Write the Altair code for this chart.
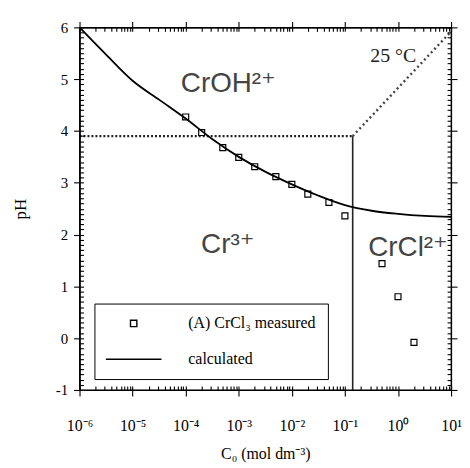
import altair as alt
import pandas as pd

# ---------------- data ----------------
curve_c = [1e-6, 3.2e-6, 1e-5, 3.2e-5, 1e-4, 3.2e-4, 1e-3, 3.2e-3, 1e-2, 3.2e-2, 0.1, 0.32, 1.0, 3.2, 10.0]
curve_ph = [6.0, 5.47, 4.97, 4.6, 4.24, 3.84, 3.5, 3.21, 2.97, 2.75, 2.57, 2.46, 2.4, 2.36, 2.34]

meas_c = [1e-4, 2e-4, 5e-4, 1e-3, 2e-3, 5e-3, 1e-2, 2e-2, 5e-2, 0.1, 0.5, 1.0, 2.0]
meas_ph = [4.27, 3.97, 3.68, 3.49, 3.31, 3.12, 2.97, 2.78, 2.62, 2.36, 1.44, 0.80, -0.08]

# predominance-area boundaries (segments)
bound_c1 = [1e-6, 0.14, 0.14]
bound_ph1 = [3.9, 3.9, 3.9]
bound_c2 = [0.14, 0.14, 10.0]
bound_ph2 = [3.9, -1.0, 5.92]

region_text = ["CrOH²⁺", "Cr³⁺", "CrCl²⁺"]
region_c = [8.1e-5, 1.95e-4, 0.275]
region_ph = [4.75, 1.64, 1.58]

temp_text = ["25 °C"]
temp_c = [0.3]
temp_ph = [5.34]

legend_names = ["(A) CrCl₃ measured", "calculated"]

x_exps = [-6, -5, -4, -3, -2, -1, 0, 1]
x_tick_labels = ["10⁻⁶", "10⁻⁵", "10⁻⁴", "10⁻³", "10⁻²", "10⁻¹", "10⁰", "10¹"]
y_major_ticks = [-1, 0, 1, 2, 3, 4, 5, 6]
y_domain = [-1, 6]
x_domain = [1e-6, 10.0]

# ---------------- tables ----------------
curve_df = pd.DataFrame({"c": curve_c, "ph": curve_ph})
meas_df = pd.DataFrame({"c": meas_c, "ph": meas_ph})
bound_df = pd.DataFrame({"c": bound_c1, "ph": bound_ph1, "c2": bound_c2, "ph2": bound_ph2})
region_df = pd.DataFrame({"c": region_c, "ph": region_ph, "t": region_text})
temp_df = pd.DataFrame({"c": temp_c, "ph": temp_ph, "t": temp_text})
legend_df = pd.DataFrame({"series": legend_names})

# ---------------- axes ----------------
x_major_ticks = [10.0 ** e for e in x_exps]
x_all_ticks = [m * 10.0 ** e for e in range(-6, 1) for m in range(1, 10)] + [10.0]
y_all_ticks = [round(-1 + i * 0.1, 1) for i in range(71)]

lx = "log(datum.value)/LN10"
chain = "''"
for ex, lab in reversed(list(zip(x_exps, x_tick_labels))):
    chain = f"(round({lx}) == {ex} ? '{lab}' : {chain})"
x_label_expr = chain
y_label_expr = "'' + round(datum.value)"

SERIF = "Liberation Serif"
SANS = "Liberation Sans, DejaVu Sans"

xscale = alt.Scale(type="log", domain=x_domain, nice=False)
yscale = alt.Scale(domain=y_domain, nice=False, zero=False)

common = dict(grid=False, domainColor="black", tickColor="black", tickWidth=1.1,
              ticks=True, tickOpacity=1, zindex=1)

xaxis = alt.Axis(
    orient="bottom", values=x_major_ticks, labelExpr=x_label_expr, tickSize=6,
    labelFont=SERIF, labelFontSize=16, labelColor="black", labelPadding=22, labelFlush=False,
    title="C₀ (mol dm⁻³)", titleFont=SERIF, titleFontSize=16, titleFontWeight="normal",
    titleColor="black", titlePadding=12, **common,
)
yaxis = alt.Axis(
    orient="left", values=y_major_ticks, labelExpr=y_label_expr, tickSize=6,
    labelFont=SERIF, labelFontSize=15, labelColor="black", labelPadding=6,
    title="pH", titleFont=SERIF, titleFontSize=17, titleFontWeight="normal",
    titleColor="black", titlePadding=26, **common,
)


def plain_axis(orient, values, size):
    return alt.Axis(orient=orient, values=values, labels=False, title=None, tickSize=size, **common)


def X(axis=None, f="c"):
    return alt.X(f, type="quantitative", scale=xscale, axis=axis)


def Y(axis=None, f="ph"):
    return alt.Y(f, type="quantitative", scale=yscale, axis=axis)


# ---------------- layers (flat, each with identical scales) ----------------
b_h = alt.Chart(bound_df.iloc[[0]]).mark_rule(color="#222", strokeWidth=2.2, strokeDash=[2, 2]).encode(
    x=X(), y=Y(), x2="c2", y2="ph2")
b_v = alt.Chart(bound_df.iloc[[1]]).mark_rule(color="#222", strokeWidth=1.6).encode(
    x=X(), y=Y(), x2="c2", y2="ph2")
b_d = alt.Chart(bound_df.iloc[[2]]).mark_rule(color="#444", strokeWidth=2.4, strokeDash=[2, 3]).encode(
    x=X(), y=Y(), x2="c2", y2="ph2")

curve = alt.Chart(curve_df).mark_line(color="black", strokeWidth=1.8, interpolate="monotone").encode(
    x=X(xaxis), y=Y(yaxis))

points = alt.Chart(meas_df).mark_point(shape="square", size=36, filled=False, color="black",
                                       strokeWidth=1.2, opacity=1).encode(x=X(), y=Y())

regions = alt.Chart(region_df).mark_text(align="left", baseline="alphabetic", font=SANS,
                                         fontSize=28, color="#444").encode(x=X(), y=Y(), text="t")
temp = alt.Chart(temp_df).mark_text(align="left", baseline="alphabetic", font=SERIF,
                                    fontSize=20, color="#222").encode(x=X(), y=Y(), text="t")

SQUARE_PATH = "M-0.8,-0.8H0.8V0.8H-0.8Z"
LINE_PATH = "M-7,0H7"
legend_layer = alt.Chart(legend_df).mark_point(opacity=0, filled=False, color="black", size=64,
                                               strokeWidth=1.4).encode(
    shape=alt.Shape("series:N", scale=alt.Scale(domain=legend_names, range=[SQUARE_PATH, LINE_PATH]),
                    legend=alt.Legend(title=None, orient="none", legendX=15, legendY=278,
                                      strokeColor="black", padding=12, rowPadding=20,
                                      symbolSize=64, symbolStrokeWidth=1.4, symbolOffset=19.5,
                                      labelOffset=47, labelFont=SERIF, labelFontSize=16,
                                      labelColor="black", symbolStrokeColor="black"))
)


def guide_layer(xax, yax):
    return alt.Chart(curve_df).mark_line(opacity=0).encode(x=X(xax), y=Y(yax))


INWARD = {"expr": "-4"}
g_in_bl = guide_layer(plain_axis("bottom", x_all_ticks, INWARD), plain_axis("left", y_all_ticks, INWARD))
g_in_tr = guide_layer(plain_axis("top", x_all_ticks, INWARD), plain_axis("right", y_all_ticks, INWARD))
g_out_tr = guide_layer(plain_axis("top", x_major_ticks, 6), plain_axis("right", y_major_ticks, 6))

chart = alt.layer(
    b_h, b_v, b_d, curve, points, regions, temp, legend_layer, g_in_bl, g_in_tr, g_out_tr
).resolve_scale(x="independent", y="independent").properties(
    width=374, height=365,
    padding={"left": 3, "top": 11, "right": 0, "bottom": 0},
).configure_view(stroke="black", strokeWidth=1.3)

chart.save("out.html", embed_options={"renderer": "svg", "actions": False})
